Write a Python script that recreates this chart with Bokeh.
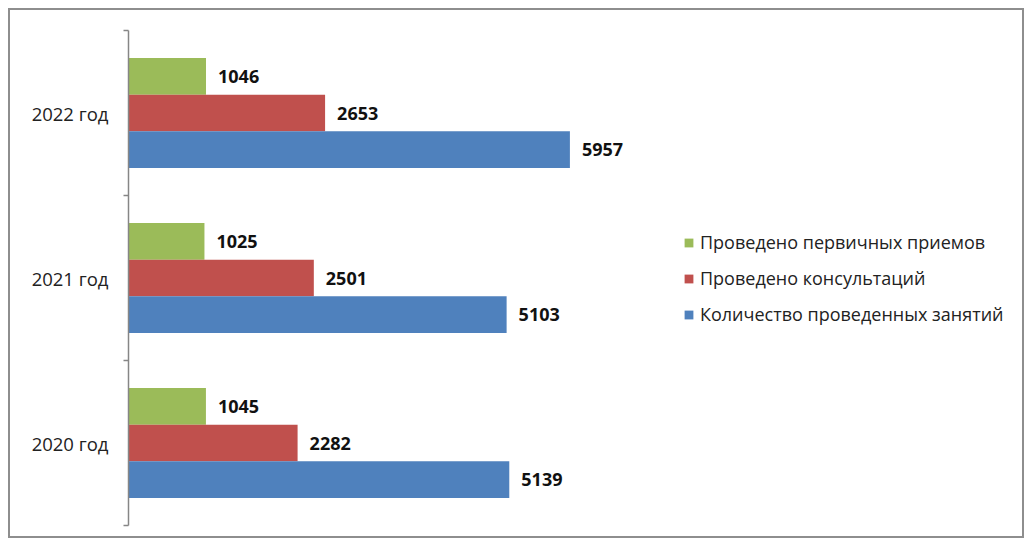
from bokeh.plotting import figure
from bokeh.models import ColumnDataSource, FixedTicker, Range1d, Legend, LegendItem
from bokeh.core.properties import value
from bokeh.transform import dodge
from bokeh.embed import file_html
from bokeh.resources import INLINE

categories = ["2020 год", "2021 год", "2022 год"]
series_names = ["Проведено первичных приемов", "Проведено консультаций", "Количество проведенных занятий"]
primary = [1045, 1025, 1046]
consult = [2282, 2501, 2653]
lessons = [5139, 5103, 5957]
colors = ["#9BBB59", "#C0504D", "#4F81BD"]

FONT = "Open Sans"

ypos = [i + 0.5 for i in range(len(categories))]
src = ColumnDataSource(dict(y=ypos, primary=primary, consult=consult, lessons=lessons,
                            primary_t=[str(v) for v in primary],
                            consult_t=[str(v) for v in consult],
                            lessons_t=[str(v) for v in lessons]))

p = figure(width=1016, height=530, output_backend="svg", toolbar_location=None,
           x_range=Range1d(0, 12119), y_range=Range1d(0, 3),
           min_border_left=118, min_border_right=0, min_border_top=20, min_border_bottom=15,
           styles={"border": "2px solid #8e8e8e", "margin-left": "8px", "margin-top": "8px"})
p.outline_line_color = None
p.background_fill_color = "white"
p.border_fill_color = "white"
p.xgrid.visible = False
p.ygrid.visible = False
p.xaxis.visible = False

offs = [0.222, 0.0, -0.222]
cols = ["primary", "consult", "lessons"]
renderers = []
for c, o, col in zip(cols, offs, colors):
    r = p.hbar(y=dodge("y", o), right=c, left=0, height=0.222, source=src,
               fill_color=col, line_color=None)
    renderers.append(r)
    p.text(x=c, y=dodge("y", o), text=c + "_t", source=src, x_offset=12,
           text_baseline="middle", text_align="left", text_font=value(FONT),
           text_font_style="bold", text_font_size="18px", text_color="#111111")

ax = p.yaxis[0]
ax.ticker = FixedTicker(ticks=ypos, minor_ticks=[0, 1, 2, 3])
ax.major_label_overrides = {y: c for y, c in zip(ypos, categories)}
ax.major_tick_out = 0
ax.major_tick_in = 0
ax.minor_tick_out = 5
ax.minor_tick_in = 0
ax.minor_tick_line_color = "#868686"
ax.minor_tick_line_width = 1.5
ax.axis_line_color = "#868686"
ax.axis_line_width = 1.5
ax.major_label_text_font = FONT
ax.major_label_text_font_size = "18.5px"
ax.major_label_text_color = "#222222"
ax.major_label_standoff = 15

legend = Legend(items=[LegendItem(label=n, renderers=[r]) for n, r in zip(series_names, renderers)],
                location=(555, 199), glyph_width=11, glyph_height=11, label_standoff=6,
                label_height=23, spacing=12, padding=0, margin=0,
                border_line_color=None, background_fill_alpha=0,
                label_text_font=FONT, label_text_font_size="18px", label_text_color="#222222")
p.add_layout(legend)

open("out.html", "w").write(file_html(p, INLINE))
